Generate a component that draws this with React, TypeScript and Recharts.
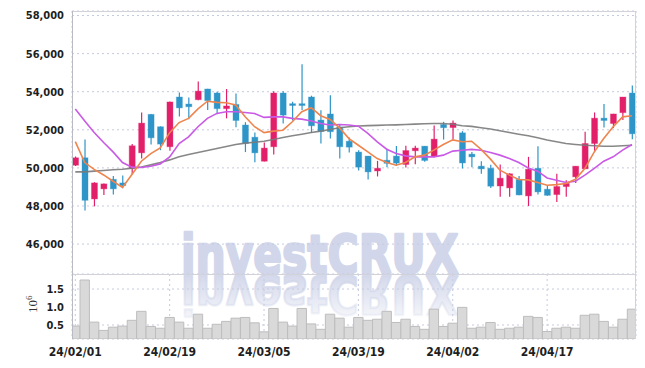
import React from 'react';
import { ComposedChart, Bar, Line, XAxis, YAxis, CartesianGrid } from 'recharts';

const dates = [
  '24/02/01','24/02/02','24/02/05','24/02/06','24/02/07','24/02/08','24/02/13','24/02/14','24/02/15','24/02/16',
  '24/02/19','24/02/20','24/02/21','24/02/22','24/02/23','24/02/26','24/02/27','24/02/28','24/02/29','24/03/04',
  '24/03/05','24/03/06','24/03/07','24/03/08','24/03/11','24/03/12','24/03/13','24/03/14','24/03/15','24/03/18',
  '24/03/19','24/03/20','24/03/21','24/03/22','24/03/25','24/03/26','24/03/27','24/03/28','24/03/29','24/04/01',
  '24/04/02','24/04/03','24/04/04','24/04/05','24/04/08','24/04/09','24/04/11','24/04/12','24/04/15','24/04/16',
  '24/04/17','24/04/18','24/04/19','24/04/22','24/04/23','24/04/24','24/04/25','24/04/26','24/04/29','24/04/30',
];

const opens = [
  50140,50530,48370,48900,49400,49210,49970,50790,52810,52160,
  51110,53720,53350,53580,54140,53930,53110,53330,52250,51610,
  50350,51110,53930,53370,53370,53720,52510,52830,52140,51400,
  50830,50620,49840,50400,50620,50180,50900,51140,50600,52280,
  52120,51840,50720,50090,49980,49050,48950,49400,48530,49980,
  48880,48600,49020,49530,49950,51280,52610,52330,52900,53930,
];
const highs = [
  50600,51490,49250,49180,49580,49600,51250,52910,52830,52180,
  53480,53960,53700,54530,54150,54000,54140,53900,52400,51860,
  51330,54020,54020,53470,55440,53790,53020,53810,52300,51600,
  50930,50630,50370,51000,51150,51160,51160,51150,52230,52420,
  52490,51930,50840,50350,50160,50180,49720,49580,50580,51140,
  49100,49690,49350,50090,51900,52910,53350,52840,53720,54330,
];
const lows = [
  50100,47760,47980,48580,48600,48930,49670,50490,51230,50930,
  50900,52700,52560,53550,53040,52810,52600,52140,50830,50300,
  50330,50700,52330,52490,53040,51840,51280,51540,50490,50810,
  49860,49390,49550,50040,50100,50020,50190,50320,50560,51490,
  51490,49970,50040,49690,48950,48490,48480,48570,48000,48600,
  48540,48210,48490,49210,49950,50830,52120,52090,52510,51510,
];
const closes = [
  50530,48300,49210,49160,48900,49070,51160,52350,51580,51250,
  53460,53150,53210,54030,53530,53110,53250,52490,51280,50790,
  51040,53930,52770,53300,53300,52210,51910,51900,51110,51090,
  50040,49790,49980,50240,50250,50910,51040,50390,51510,52110,
  52350,50260,50580,49950,49040,49460,49690,48580,49930,48740,
  48560,49020,49190,50090,51280,52610,52490,52830,53720,51790,
];
const ma5 = [
  51380,50280,49920,49630,49300,48970,49650,50350,50750,51050,
  51850,52380,52600,53100,53500,53440,53420,53300,52680,52160,
  51850,51930,51980,52420,52950,53160,52740,52540,52100,51540,
  51190,50840,50490,50280,50140,50280,50580,50670,50930,51230,
  51470,51370,51400,50970,50460,49880,49620,49390,49370,49230,
  49090,49120,49180,49400,49970,50840,51540,52160,52680,52740,
];
const ma20 = [
  53090,52460,51860,51330,50840,50280,50040,50020,50090,50210,
  50580,51280,51630,52160,52600,52860,52950,52950,52910,52860,
  52650,52680,52680,52600,52560,52460,52330,52250,52280,52250,
  52190,51810,51370,50980,50760,50630,50580,50580,50580,50670,
  50880,50930,50970,50930,50810,50670,50490,50280,50000,49830,
  49470,49350,49230,49300,49620,49970,50350,50580,50930,51230,
];
const ma60 = [
  49790,49790,49830,49860,49900,49930,49980,50050,50160,50280,
  50420,50580,50700,50810,50910,51020,51120,51230,51300,51350,
  51400,51490,51600,51690,51770,51860,51930,52020,52110,52160,
  52200,52220,52230,52250,52260,52280,52300,52320,52330,52330,
  52290,52210,52180,52110,52040,51950,51860,51770,51690,51580,
  51460,51370,51280,51230,51190,51160,51140,51140,51160,51190,
];
const volumes = [
  0.47,1.75,0.58,0.35,0.44,0.47,0.63,0.88,0.46,0.41,
  0.71,0.58,0.41,0.80,0.41,0.52,0.60,0.69,0.71,0.56,
  0.31,0.96,0.58,0.47,0.96,0.53,0.38,0.80,0.69,0.44,
  0.71,0.63,0.66,0.88,0.57,0.66,0.46,0.38,0.94,0.46,
  0.55,0.99,0.41,0.44,0.57,0.38,0.41,0.44,0.74,0.71,
  0.32,0.41,0.44,0.41,0.77,0.80,0.60,0.44,0.66,0.94,
];

const xTicks = [0, 10, 20, 30, 40, 50];
const priceTicks = [46000, 48000, 50000, 52000, 54000, 56000, 58000];
const volumeTicks = [0.5, 1.0, 1.5];

const data = dates.map((d, i) => ({
  i,
  date: d,
  open: opens[i],
  high: highs[i],
  low: lows[i],
  close: closes[i],
  range: [lows[i], highs[i]],
  ma5: ma5[i],
  ma20: ma20[i],
  ma60: ma60[i],
  volume: volumes[i],
}));

const PINK = '#e2206a';
const BLUE = '#2e95c8';
const GRID = '#c6cadf';
const TEXT = '#1e1e1e';
const FONT = '"DejaVu Sans Condensed", "DejaVu Sans", sans-serif';
const X_DOMAIN: [number, number] = [-0.35, 59.42];

const wmStyle: React.CSSProperties = {
  fontFamily: '"DejaVu Sans", sans-serif',
  fontWeight: 700,
  fontSize: 53,
};

const Candle = (props: any) => {
  const { x, y, width, height, payload } = props;
  if (!payload) return null;
  const { open, close, high, low } = payload;
  const up = close >= open;
  const color = up ? PINK : BLUE;
  const h = Math.abs(height);
  const top = height >= 0 ? y : y + height;
  const ratio = h / (high - low || 1);
  const cx = x + width / 2;
  const bodyTop = top + (high - Math.max(open, close)) * ratio;
  const bodyBot = top + (high - Math.min(open, close)) * ratio;
  const bw = 6;
  return (
    <g>
      <line x1={cx} x2={cx} y1={top} y2={top + h} stroke={color} strokeWidth={1.2} />
      <rect
        x={cx - bw / 2}
        y={bodyTop}
        width={bw}
        height={Math.max(1.8, bodyBot - bodyTop)}
        fill={color}
        stroke={color}
        strokeOpacity={0.35}
        strokeWidth={1}
      />
    </g>
  );
};

export default function App() {
  return (
    <div style={{ position: 'absolute', left: 0, top: 0, width: 645, height: 368, background: '#fff' }}>
      <svg width={645} height={368} style={{ position: 'absolute', left: 0, top: 0 }}>
        <defs>
          <linearGradient id="reflect" gradientUnits="userSpaceOnUse" x1="0" y1="0" x2="0" y2="-40">
            <stop offset="0" stopColor="#d2d7ea" stopOpacity={0.95} />
            <stop offset="1" stopColor="#d2d7ea" stopOpacity={0.25} />
          </linearGradient>
        </defs>
        <g transform="translate(181,273) scale(0.8,1)">
          <text x={0} y={0} style={wmStyle} fill="#d1d6ea" stroke="#d1d6ea" strokeWidth={2.4} strokeLinejoin="round">investCRUX</text>
        </g>
        <g transform="translate(181,276) scale(0.8,-1)">
          <text x={0} y={0} style={wmStyle} fill="url(#reflect)" stroke="url(#reflect)" strokeWidth={2.4} strokeLinejoin="round">investCRUX</text>
        </g>
      </svg>

      <div style={{ position: 'absolute', left: 0, top: 0 }}>
        <ComposedChart width={645} height={274} data={data} margin={{ top: 11, right: 9, bottom: 0, left: 0 }}>
          <CartesianGrid stroke={GRID} strokeDasharray="2 3" />
          <XAxis
            type="number"
            dataKey="i"
            domain={X_DOMAIN}
            ticks={xTicks}
            allowDataOverflow
            height={0}
            tick={false}
            tickLine={false}
            axisLine={false}
          />
          <YAxis
            domain={[44430, 58236]}
            ticks={priceTicks}
            allowDataOverflow
            width={72}
            axisLine={false}
            tickLine={false}
            tickFormatter={(v: number) => v.toLocaleString('en-US')}
            tick={{ fontSize: 11, fontFamily: FONT, fontWeight: 'bold', fill: TEXT }}
          />
          <Line dataKey="ma60" type="linear" stroke="#7a7a7a" strokeOpacity={0.9} strokeWidth={1.6} dot={false} isAnimationActive={false} />
          <Line dataKey="ma20" type="linear" stroke="#c95ae6" strokeWidth={1.6} dot={false} isAnimationActive={false} />
          <Line dataKey="ma5" type="linear" stroke="#ee854e" strokeWidth={1.6} dot={false} isAnimationActive={false} />
          <Bar dataKey="range" barSize={6} shape={<Candle />} isAnimationActive={false} />
        </ComposedChart>
      </div>

      <div style={{ position: 'absolute', left: 0, top: 274 }}>
        <ComposedChart width={645} height={94} data={data} margin={{ top: 0, right: 9, bottom: 0, left: 0 }}>
          <CartesianGrid stroke={GRID} strokeDasharray="2 3" />
          <XAxis
            type="number"
            dataKey="i"
            domain={X_DOMAIN}
            ticks={xTicks}
            interval={0}
            allowDataOverflow
            height={29}
            tickLine={false}
            axisLine={false}
            tickFormatter={(v: number) => dates[v]}
            tick={{ fontSize: 12, fontFamily: FONT, fontWeight: 'bold', fill: TEXT }}
          />
          <YAxis
            domain={[0.111, 1.917]}
            ticks={volumeTicks}
            allowDataOverflow
            width={72}
            axisLine={false}
            tickLine={false}
            tickFormatter={(v: number) => v.toFixed(1)}
            tick={{ fontSize: 11, fontFamily: FONT, fontWeight: 'bold', fill: TEXT }}
          />
          <Bar dataKey="volume" barSize={9.4} fill="#d9d9d9" stroke="#bdbdbd" strokeWidth={1} isAnimationActive={false} />
        </ComposedChart>
      </div>

      <svg width={645} height={368} style={{ position: 'absolute', left: 0, top: 0, pointerEvents: 'none' }}>
        <line x1={72} x2={636} y1={11.5} y2={11.5} stroke="#d2d3da" strokeWidth={1} />
        <line x1={72} x2={636} y1={274.5} y2={274.5} stroke="#d2d3da" strokeWidth={1} />
        <line x1={635.5} x2={635.5} y1={11} y2={339} stroke="#d2d3da" strokeWidth={1} />
        <line x1={72.5} x2={72.5} y1={11} y2={339} stroke="#b8bac4" strokeWidth={1} />
        <text transform="translate(37,313) rotate(-90)" fontFamily='"Liberation Serif", serif' fontSize={13} fill="#333">
          10<tspan fontSize={9} dy={-5}>6</tspan>
        </text>
      </svg>
    </div>
  );
}
